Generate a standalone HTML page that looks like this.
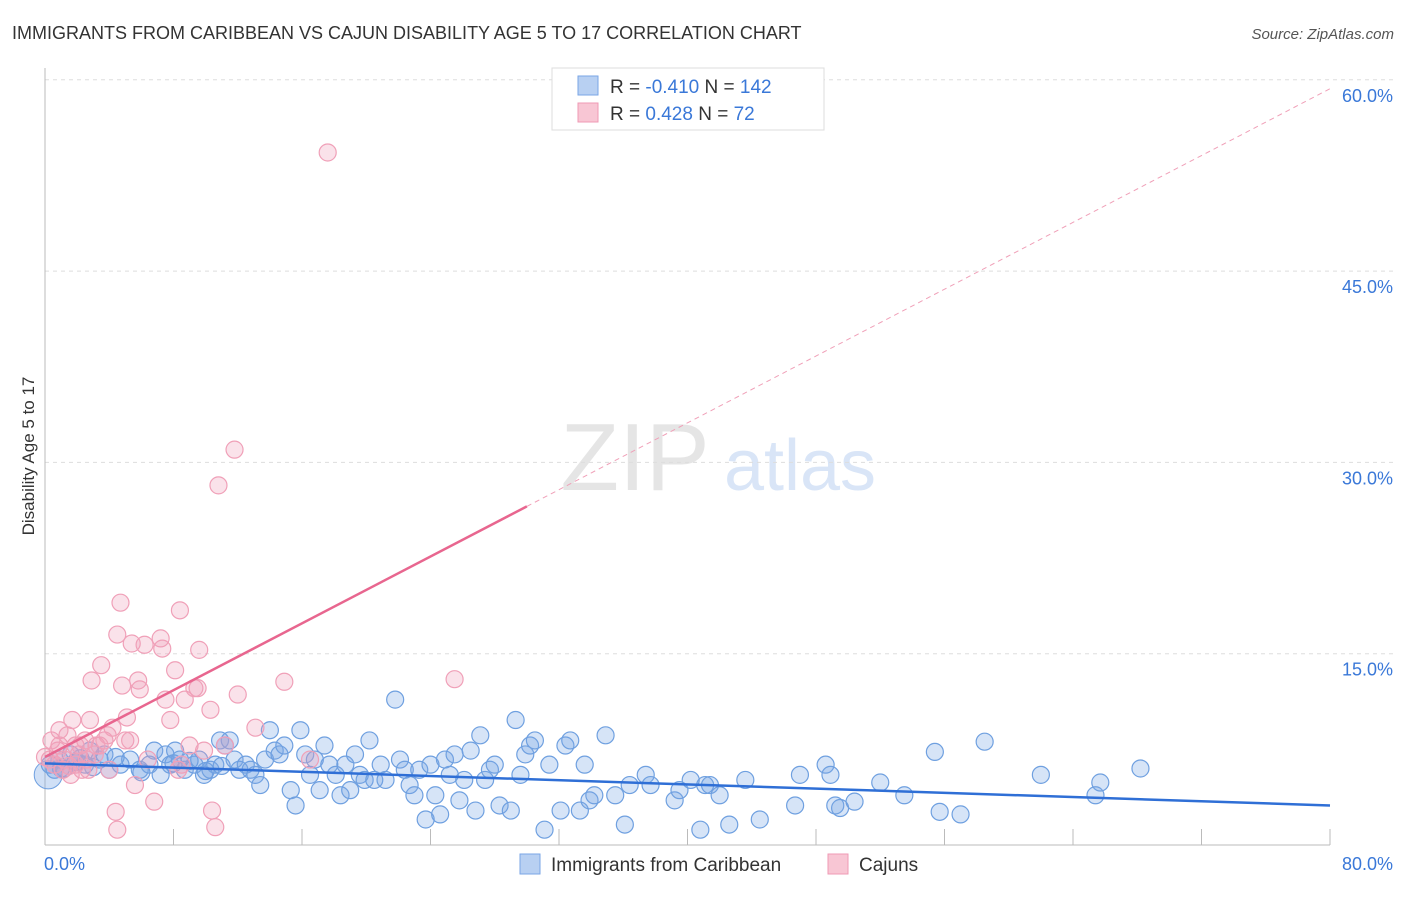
<!DOCTYPE html>
<html><head><meta charset="utf-8"><style>
body{margin:0;background:#fff;font-family:"Liberation Sans",sans-serif;}
svg text{font-family:"Liberation Sans",sans-serif;}
</style></head><body>
<svg id="chart" width="1406" height="892" xmlns="http://www.w3.org/2000/svg">
<text x="12" y="39" font-size="18" fill="#333">IMMIGRANTS FROM CARIBBEAN VS CAJUN DISABILITY AGE 5 TO 17 CORRELATION CHART</text>
<text x="1394" y="39" font-size="15" fill="#555" text-anchor="end" font-style="italic">Source: ZipAtlas.com</text>
<text transform="translate(34,456) rotate(-90)" font-size="17" fill="#333" text-anchor="middle">Disability Age 5 to 17</text>
<g opacity="0.25">
<text x="635" y="490" font-size="96" fill="#999" text-anchor="middle" font-family="Liberation Serif">ZIP</text>
<text x="800" y="490" font-size="72" fill="#6a9ae0" text-anchor="middle">atlas</text>
</g>
<g id="grid"></g><g id="axes"></g><g id="pts"></g><g id="lines"></g>
<g>
<rect x="552" y="68" width="272" height="62" fill="#fff" stroke="#ddd"/>
<rect x="578" y="76" width="20" height="19" fill="#b8d0f2" stroke="#7aa6e6"/>
<rect x="578" y="103" width="20" height="19" fill="#f8c6d4" stroke="#ef9ab4"/>
<text x="610" y="93" font-size="19" fill="#333">R = <tspan fill="#3a78d8">-0.410</tspan>   N = <tspan fill="#3a78d8">142</tspan></text>
<text x="610" y="120" font-size="19" fill="#333">R =  <tspan fill="#3a78d8">0.428</tspan>   N =   <tspan fill="#3a78d8">72</tspan></text>
</g>
<g>
<rect x="520" y="854" width="20" height="20" fill="#b8d0f2" stroke="#7aa6e6"/>
<text x="551" y="871" font-size="19" fill="#333">Immigrants from Caribbean</text>
<rect x="828" y="854" width="20" height="20" fill="#f8c6d4" stroke="#ef9ab4"/>
<text x="859" y="871" font-size="19" fill="#333">Cajuns</text>
</g>
</svg>
<script>
const yTicks=[15,30,45,60];
const xTickLabels=["0.0%","80.0%"];
const blueX=[0.3,0.6,0.9,1.2,1.6,1.9,2.2,2.5,2.8,3.4,3.7,4.0,4.7,5.3,5.9,6.5,6.8,7.2,7.5,7.8,8.1,8.4,8.7,9.3,9.6,9.9,10.3,10.6,10.9,11.2,11.5,11.8,12.1,12.5,12.8,13.1,13.4,13.7,14.0,14.3,14.6,14.9,15.3,15.6,15.9,16.2,16.5,16.8,17.1,17.4,17.7,18.1,18.4,18.7,19.0,19.3,19.6,19.9,20.2,20.5,20.9,21.2,21.8,22.1,22.4,22.7,23.0,23.3,23.7,24.0,24.3,24.6,24.9,25.2,25.5,25.8,26.1,26.5,26.8,27.1,27.4,27.7,28.0,28.3,29.0,29.3,29.6,29.9,30.2,30.5,31.1,31.4,32.1,32.4,32.7,33.3,33.6,33.9,34.2,34.9,35.5,36.1,36.4,37.4,37.7,39.2,39.5,40.2,40.8,41.1,41.4,42.0,42.6,43.6,44.5,46.7,47.0,48.6,48.9,49.2,49.5,50.4,52.0,53.5,55.4,55.7,57.0,58.5,62.0,65.4,65.7,68.2,1.0,2.0,3.0,4.4,6.0,8.0,9.0,10.0,11.0];
const blueY=[6.3,5.9,6.7,6.0,7.1,6.5,6.8,6.3,7.4,6.7,7.1,5.9,6.3,6.7,5.9,6.3,7.4,5.5,7.1,6.3,7.4,6.7,5.9,6.3,6.7,5.5,5.9,6.3,8.2,7.8,8.2,6.7,5.9,6.3,5.9,5.5,4.7,6.7,9.0,7.4,7.1,7.8,4.3,3.1,9.0,7.1,5.5,6.7,4.3,7.8,6.3,5.5,3.9,6.3,4.3,7.1,5.5,5.1,8.2,5.1,6.3,5.1,11.4,6.7,5.9,4.7,3.9,5.9,2.0,6.3,3.9,2.4,6.7,5.5,7.1,3.5,5.1,7.4,2.7,8.6,5.1,5.9,6.3,3.1,2.7,9.8,5.5,7.1,7.8,8.2,1.2,6.3,2.7,7.8,8.2,2.7,6.3,3.5,3.9,8.6,3.9,1.6,4.7,5.5,4.7,3.5,4.3,5.1,1.2,4.7,4.7,3.9,1.6,5.1,2.0,3.1,5.5,6.3,5.5,3.1,2.9,3.4,4.9,3.9,7.3,2.6,2.4,8.1,5.5,3.9,4.9,6.0,6.0,6.5,6.1,6.9,5.7,6.4,6.6,5.8,6.2];
const pinkX=[0.3,0.4,0.6,0.8,0.9,1.1,1.2,1.4,1.6,1.7,1.9,2.1,2.2,2.3,2.5,2.6,2.8,2.9,3.1,3.2,3.4,3.5,3.7,3.9,4.0,4.2,4.4,4.5,4.5,4.7,4.8,5.0,5.1,5.3,5.4,5.6,5.8,5.9,6.2,6.4,6.8,7.2,7.3,7.5,7.8,8.1,8.3,8.4,8.5,8.7,9.0,9.3,9.5,9.6,9.9,10.3,10.4,10.6,10.8,11.2,11.8,12.0,13.1,14.9,16.5,17.6,25.5,0.0,0.9,1.9,2.7,1.5];
const pinkY=[6.7,8.2,6.3,7.4,7.8,5.9,6.7,8.6,5.5,9.8,6.3,7.1,7.8,5.9,8.2,6.7,9.8,12.9,7.1,7.8,7.8,14.1,8.2,8.6,5.9,9.2,2.6,1.2,16.5,19.0,12.5,8.2,10.0,8.2,15.8,4.7,12.9,12.2,15.7,6.7,3.4,16.2,15.4,11.4,9.8,13.7,5.9,18.4,6.3,11.4,7.8,12.3,12.3,15.3,7.4,10.6,2.7,1.4,28.2,7.8,31.0,11.8,9.2,12.8,6.7,54.3,13.0,6.9,9.0,7.8,5.9,6.2];
const blueTrend=[6.4,3.1];
const pinkTrend=[6.9,59.3];
const pinkSolidEnd=30.0;
const X0=45,X1=1330,Y0=845,YPER=191.3/15;
const xs=v=>X0+(v/80)*(X1-X0);
const ys=v=>Y0-v*YPER;
const NS="http://www.w3.org/2000/svg";
function mk(tag,parent,attrs){const e=document.createElementNS(NS,tag);for(const k in attrs)e.setAttribute(k,attrs[k]);document.getElementById(parent).appendChild(e);return e;}
yTicks.forEach(t=>{
 const g=mk('line','grid',{x1:X0,x2:1395,y1:ys(t),y2:ys(t),stroke:'#ddd','stroke-dasharray':'4,4'});
 
 
 const tx=mk('text','grid',{x:1393,y:ys(t)+22,'font-size':18,fill:'#3a78d8','text-anchor':'end'});
 tx.textContent=t.toFixed(1)+'%';
 
 
});
const ax=mk('line','axes',{x1:X0,x2:X0,y1:68,y2:Y0,stroke:'#bbb'});


const bx=mk('line','axes',{x1:X0,x2:X1,y1:Y0,y2:Y0,stroke:'#bbb'});


for(let i=0;i<=10;i++){const t=mk('line','axes',{x1:xs(i*8),x2:xs(i*8),y1:Y0-16,y2:Y0,stroke:'#bbb'});
 
 }
[[0,44,'start'],[1,1393,'end']].forEach(([i,x,a])=>{const t=mk('text','axes',{x:x,y:870,'font-size':18,fill:'#3a78d8','text-anchor':a});t.textContent=xTickLabels[i];
 
 });
const big=mk('circle','pts',{cx:xs(0.2),cy:ys(5.5),r:14,fill:'rgba(120,165,230,0.35)',stroke:'#6fa0e0'});


blueX.forEach((x,i)=>{const c=mk('circle','pts',{cx:xs(x),cy:ys(blueY[i]),r:8.5,fill:'rgba(120,165,230,0.3)',stroke:'#6fa0e0','stroke-width':1.2});
 
 });
pinkX.forEach((x,i)=>{const c=mk('circle','pts',{cx:xs(x),cy:ys(pinkY[i]),r:8.5,fill:'rgba(240,160,185,0.3)',stroke:'#f0a0b8','stroke-width':1.2});
 
 });
const bl=mk('line','lines',{x1:xs(0),y1:ys(blueTrend[0]),x2:xs(80),y2:ys(blueTrend[1]),stroke:'#2f6fd6','stroke-width':2.5});


const py=x=>pinkTrend[0]+(pinkTrend[1]-pinkTrend[0])*x/80;
const ps=mk('line','lines',{x1:xs(0),y1:ys(pinkTrend[0]),x2:xs(pinkSolidEnd),y2:ys(py(pinkSolidEnd)),stroke:'#e8668f','stroke-width':2.5});


const pd=mk('line','lines',{x1:xs(pinkSolidEnd),y1:ys(py(pinkSolidEnd)),x2:xs(80),y2:ys(pinkTrend[1]),stroke:'#f0a0b8','stroke-width':1,'stroke-dasharray':'5,4'});


</script>
</body></html>
